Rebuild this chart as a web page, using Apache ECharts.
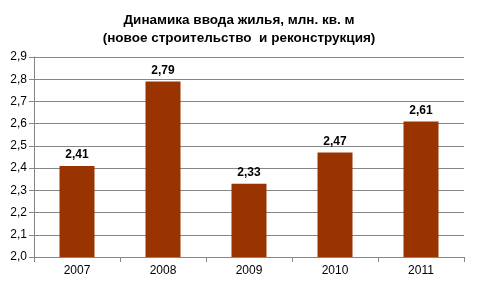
<!DOCTYPE html>
<html><head><meta charset="utf-8">
<script src="https://cdn.jsdelivr.net/npm/echarts@6/dist/echarts.min.js"></script>
<style>html,body{margin:0;padding:0;background:#fff}#c{width:478px;height:284px}</style>
</head><body><div id="c"></div>
<script>
const categories = ['2007','2008','2009','2010','2011'];
const values = [2.41, 2.79, 2.33, 2.47, 2.61];
const titleLines = ['Динамика ввода жилья, млн. кв. м', '(новое строительство  и реконструкция)'];
const fmt = v => v.toFixed(1).replace('.', ',');
const chart = echarts.init(document.getElementById('c'), null, {renderer:'canvas'});
chart.setOption({
  animation:false,
  textStyle:{fontFamily:'Liberation Sans, Arial, sans-serif'},
  title:{text:titleLines.join('\n'), left:'center', top:6,
    textStyle:{fontSize:13.5, fontWeight:'bold', color:'#000', lineHeight:18, fontFamily:'Liberation Sans, Arial, sans-serif'}},
  grid:{left:34, right:14, top:57, bottom:27},
  xAxis:{type:'category', data:categories,
    axisLine:{lineStyle:{color:'#868686'}},
    axisTick:{show:true, lineStyle:{color:'#868686'}, length:5},
    axisLabel:{color:'#000', fontSize:12, margin:8}},
  yAxis:{type:'value', min:2.0, max:2.9, interval:0.1,
    axisLine:{show:true, lineStyle:{color:'#868686'}},
    axisTick:{show:true, length:5, lineStyle:{color:'#868686'}},
    splitLine:{lineStyle:{color:'#868686'}},
    axisLabel:{color:'#000', fontSize:12, margin:7, formatter:v=>fmt(v)}},
  series:[{type:'bar', data:values, barWidth:35,
    itemStyle:{color:'#993300'},
    label:{show:true, position:'top', distance:5, fontWeight:'bold', fontSize:12, color:'#000',
      formatter:p=>p.value.toFixed(2).replace('.', ',')}}]
});
</script></body></html>
